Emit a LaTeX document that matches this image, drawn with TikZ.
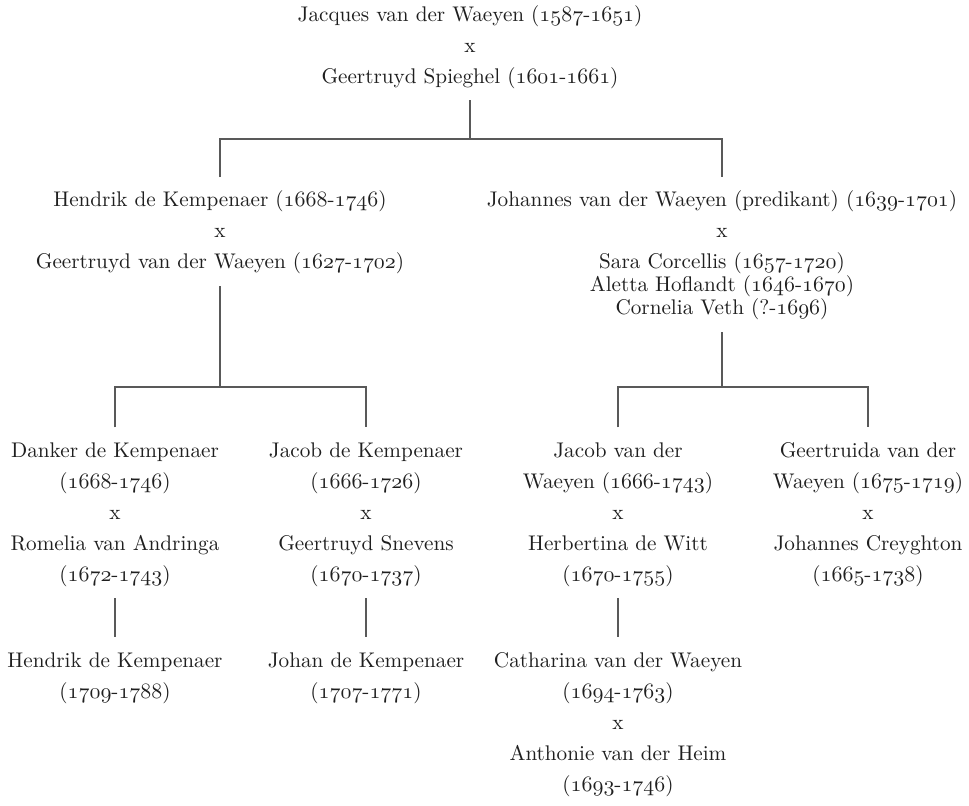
\documentclass[tikz,border=0pt]{standalone}
\usepackage{fontspec}
\newcommand\osn[1]{\legacyoldstylenums{#1}}
\newcommand\yrs[2]{(\osn{#1}-\osn{#2})}
\tikzset{
  person/.style={align=center, inner sep=0pt, outer sep=4pt, anchor=north,
    font=\fontsize{10.6}{15.5}\selectfont, text=black!88},
  link/.style={draw=black!65, line width=0.6pt},
}
\begin{document}
\begin{tikzpicture}[x=0.5pt,y=-0.5pt]
\useasboundingbox (0,0) rectangle (969,805);
% generation 1
\node[person] (p0) at (470,-8.7) {\strut Jacques van der Waeyen \yrs{1587}{1651}\\ x\\ Geertruyd Spieghel \yrs{1601}{1661}\strut};
% generation 2
\node[person] (p1) at (220,177) {\strut Hendrik de Kempenaer \yrs{1668}{1746}\\ x\\ Geertruyd van der Waeyen \yrs{1627}{1702}\strut};
\node[person] (p2) at (722,177) {\strut Johannes van der Waeyen (predikant) \yrs{1639}{1701}\\ x\\ Sara Corcellis \yrs{1657}{1720}\strut\\[-4pt] \strut Aletta Hoflandt \yrs{1646}{1670}\strut\\[-4pt] \strut Cornelia Veth (?-\osn{1696})\strut};
% generation 3
\node[person] (p3) at (115,427.3) {\strut Danker de Kempenaer\\ \yrs{1668}{1746}\\ x\\ Romelia van Andringa\\ \yrs{1672}{1743}\strut};
\node[person] (p4) at (366,427.3) {\strut Jacob de Kempenaer\\ \yrs{1666}{1726}\\ x\\ Geertruyd Snevens\\ \yrs{1670}{1737}\strut};
\node[person] (p5) at (618,427.3) {\strut Jacob van der\\ Waeyen \yrs{1666}{1743}\\ x\\ Herbertina de Witt\\ \yrs{1670}{1755}\strut};
\node[person] (p6) at (868,427.3) {\strut Geertruida van der\\ Waeyen \yrs{1675}{1719}\\ x\\ Johannes Creyghton\\ \yrs{1665}{1738}\strut};
% generation 4
\node[person] (p7) at (115,637.3) {\strut Hendrik de Kempenaer\\ \yrs{1709}{1788}\strut};
\node[person] (p8) at (366,637.3) {\strut Johan de Kempenaer\\ \yrs{1707}{1771}\strut};
\node[person] (p9) at (618,637.3) {\strut Catharina van der Waeyen\\ \yrs{1694}{1763}\\ x\\ Anthonie van der Heim\\ \yrs{1693}{1746}\strut};
% connectors
\coordinate (j0) at (470,139);
\coordinate (j1) at (220,387);
\coordinate (j2) at (722,387);
\draw[link] (p0.south) -- (j0);
\draw[link] (p1.north) |- (j0) -| (p2.north);
\draw[link] (p1.south) -- (j1);
\draw[link] (p3.north) |- (j1) -| (p4.north);
\draw[link] (p2.south) -- (j2);
\draw[link] (p5.north) |- (j2) -| (p6.north);
\draw[link] (p3.south) -- (p7.north);
\draw[link] (p4.south) -- (p8.north);
\draw[link] (p5.south) -- (p9.north);
\end{tikzpicture}
\end{document}
